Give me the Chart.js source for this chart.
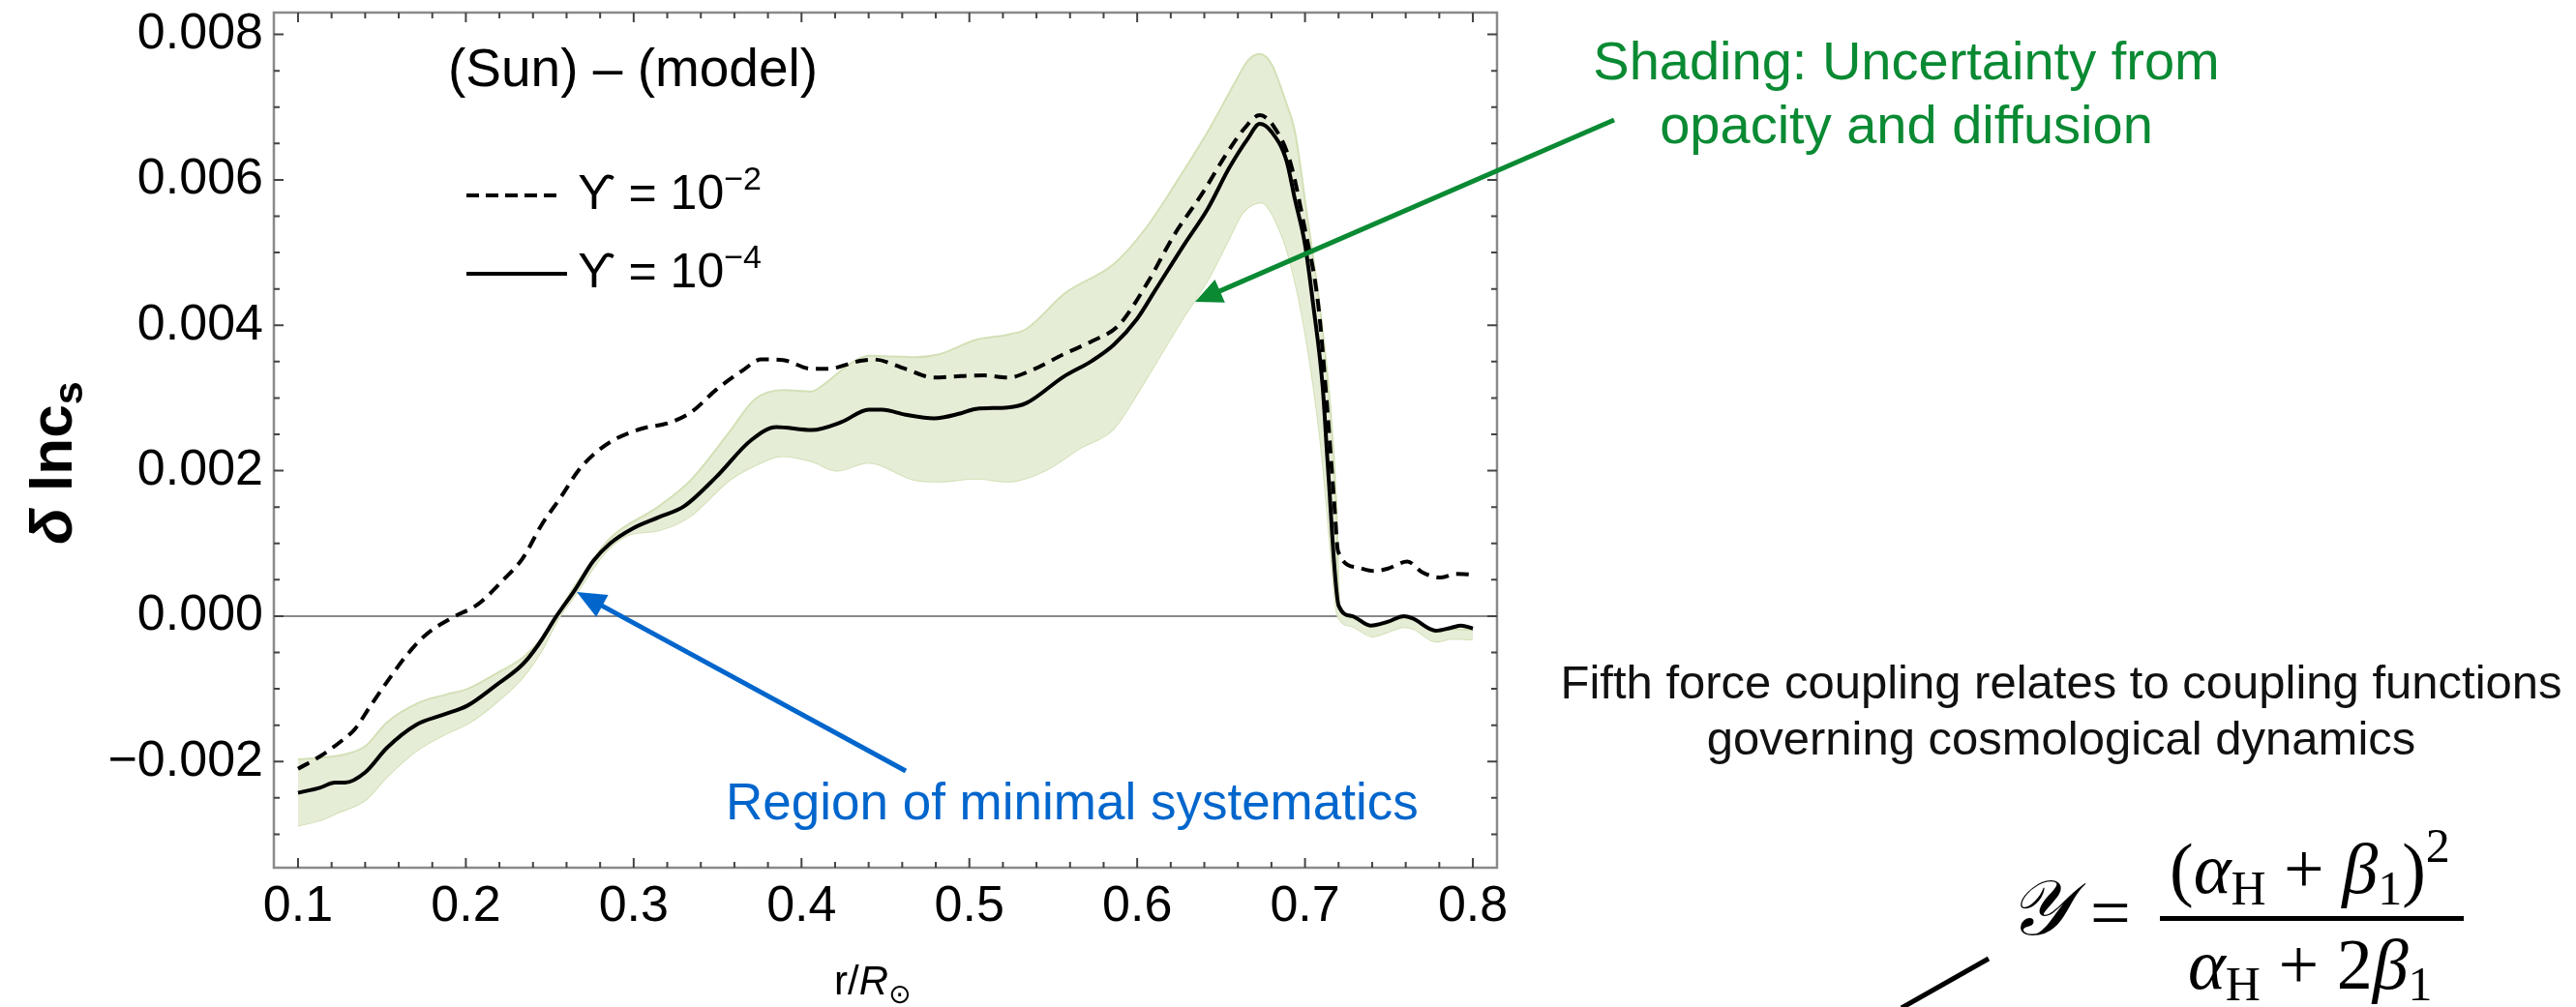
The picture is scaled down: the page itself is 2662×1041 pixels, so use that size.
<!DOCTYPE html>
<html>
<head>
<meta charset="utf-8">
<script src="https://cdn.jsdelivr.net/npm/chart.js@4.4.1/dist/chart.umd.min.js"></script>
<style>
  html, body { margin: 0; padding: 0; background: #fff; }
  #c { display: block; }
</style>
</head>
<body>
<canvas id="c" width="2662" height="1041"></canvas>
<script>
// ---- values (y in units of 1e-3) ----
const xTicks = [0.1, 0.2, 0.3, 0.4, 0.5, 0.6, 0.7, 0.8];
const yTicks = [-2, 0, 2, 4, 6, 8];

// Y = 10^-2 (dashed)
const dashX = [0.100,0.113,0.124,0.134,0.143,0.155,0.165,0.176,0.192,0.207,0.222,0.234,0.245,0.257,0.267,0.276,0.288,0.305,0.320,0.334,0.349,0.365,0.376,0.389,0.406,0.415,0.435,0.443,0.462,0.479,0.495,0.509,0.523,0.537,0.556,0.573,0.589,0.606,0.622,0.639,0.653,0.664,0.673,0.6815,0.691,0.6995,0.708,0.713,0.7174,0.7197,0.731,0.741,0.749,0.761,0.770,0.781,0.790,0.800];
const dashY = [-2.10,-1.93,-1.75,-1.55,-1.24,-0.84,-0.53,-0.26,-0.02,0.16,0.49,0.80,1.25,1.65,2.00,2.22,2.42,2.58,2.65,2.80,3.11,3.38,3.53,3.52,3.40,3.40,3.51,3.53,3.40,3.28,3.30,3.31,3.28,3.38,3.60,3.78,4.00,4.58,5.24,5.82,6.35,6.71,6.89,6.73,6.26,5.37,4.26,2.93,1.56,0.89,0.67,0.62,0.65,0.75,0.60,0.53,0.58,0.57];

// Y = 10^-4 (solid)
const solidX = [0.100,0.113,0.122,0.128,0.140,0.153,0.170,0.186,0.201,0.218,0.234,0.243,0.254,0.265,0.276,0.286,0.299,0.315,0.330,0.349,0.370,0.385,0.406,0.424,0.440,0.448,0.462,0.479,0.495,0.504,0.523,0.534,0.556,0.573,0.586,0.600,0.611,0.628,0.642,0.655,0.666,0.673,0.680,0.689,0.694,0.700,0.705,0.7105,0.7135,0.7201,0.728,0.739,0.749,0.759,0.764,0.778,0.787,0.793,0.800];
const solidY = [-2.43,-2.36,-2.29,-2.29,-2.15,-1.81,-1.50,-1.36,-1.23,-0.95,-0.66,-0.40,0.00,0.36,0.76,1.00,1.20,1.36,1.51,1.91,2.42,2.60,2.56,2.67,2.84,2.84,2.77,2.72,2.79,2.85,2.87,2.93,3.29,3.51,3.73,4.09,4.49,5.11,5.60,6.17,6.57,6.77,6.66,6.26,5.73,5.11,4.26,3.16,2.10,0.14,0.00,-0.13,-0.08,0.00,-0.03,-0.20,-0.16,-0.13,-0.17];

// shading: upper and lower edge
const upX = [0.100,0.113,0.128,0.140,0.153,0.172,0.188,0.201,0.218,0.234,0.245,0.255,0.266,0.286,0.315,0.334,0.357,0.372,0.389,0.406,0.413,0.429,0.440,0.468,0.482,0.504,0.523,0.534,0.557,0.586,0.605,0.624,0.643,0.659,0.666,0.673,0.680,0.688,0.694,0.701,0.709,0.715,0.7186,0.7205,0.728,0.740,0.749,0.759,0.765,0.778,0.788,0.800];
const upY = [-1.97,-1.95,-1.90,-1.79,-1.46,-1.19,-1.08,-1.00,-0.79,-0.57,-0.31,0.05,0.45,1.07,1.51,1.87,2.53,2.98,3.11,3.09,3.18,3.47,3.58,3.56,3.60,3.80,3.87,3.95,4.44,4.84,5.33,5.99,6.70,7.37,7.64,7.73,7.59,7.11,6.66,5.55,4.22,2.89,1.56,0.15,-0.02,-0.15,-0.10,-0.02,-0.05,-0.22,-0.18,-0.19];
const lowX = [0.100,0.113,0.124,0.140,0.153,0.170,0.188,0.201,0.218,0.234,0.245,0.255,0.266,0.282,0.296,0.315,0.334,0.357,0.374,0.388,0.406,0.421,0.440,0.468,0.482,0.504,0.523,0.545,0.566,0.586,0.605,0.626,0.643,0.653,0.663,0.674,0.682,0.691,0.701,0.709,0.7128,0.716,0.7195,0.728,0.740,0.749,0.759,0.765,0.778,0.788,0.800];
const lowY = [-2.88,-2.81,-2.70,-2.53,-2.21,-1.86,-1.62,-1.48,-1.19,-0.84,-0.48,-0.04,0.32,0.85,1.11,1.18,1.38,1.87,2.09,2.20,2.13,2.00,2.11,1.87,1.85,1.89,1.85,2.00,2.31,2.58,3.25,4.05,4.66,5.11,5.55,5.69,5.46,4.89,3.78,2.45,1.56,0.70,0.00,-0.14,-0.28,-0.22,-0.15,-0.18,-0.35,-0.31,-0.32];

const pts = (xs, ys) => xs.map((x, i) => ({ x: x, y: ys[i] }));

const SANS = 'Liberation Sans, Arial, DejaVu Sans, sans-serif';
const SERIF = 'Liberation Serif, Times New Roman, DejaVu Serif, serif';

// draws text pieces one after another, returns end x
function runs(ctx, parts, x, y) {
    for (const p of parts) {
        ctx.font = p.f;
        ctx.fillText(p.t, x, y + (p.dy || 0));
        x += ctx.measureText(p.t).width;
    }
    return x;
}

function arrow(ctx, x1, y1, x2, y2, color, w, hl, hw) {
    const a = Math.atan2(y2 - y1, x2 - x1);
    const bx = x2 - hl * Math.cos(a), by = y2 - hl * Math.sin(a);
    ctx.strokeStyle = color;
    ctx.fillStyle = color;
    ctx.lineWidth = w;
    ctx.beginPath();
    ctx.moveTo(x1, y1);
    ctx.lineTo(bx + 2 * Math.cos(a), by + 2 * Math.sin(a));
    ctx.stroke();
    ctx.beginPath();
    ctx.moveTo(x2, y2);
    ctx.lineTo(bx + hw / 2 * Math.sin(a), by - hw / 2 * Math.cos(a));
    ctx.lineTo(bx - hw / 2 * Math.sin(a), by + hw / 2 * Math.cos(a));
    ctx.closePath();
    ctx.fill();
}

const deco = {
    id: 'deco',
    beforeDatasetsDraw(chart) {
        const { ctx, chartArea: a, scales: { y } } = chart;
        const y0 = y.getPixelForValue(0);
        ctx.save();
        ctx.strokeStyle = '#8a8a8a';
        ctx.lineWidth = 2;
        ctx.beginPath();
        ctx.moveTo(a.left, y0);
        ctx.lineTo(a.right, y0);
        ctx.stroke();
        ctx.restore();
    },
    afterDraw(chart) {
        const { ctx, chartArea: a, scales: { x, y } } = chart;
        ctx.save();

        // frame
        ctx.strokeStyle = '#8a8a8a';
        ctx.lineWidth = 2.5;
        ctx.strokeRect(a.left, a.top, a.right - a.left, a.bottom - a.top);

        // inward ticks on all four sides
        ctx.strokeStyle = '#444';
        ctx.lineWidth = 2;
        ctx.beginPath();
        for (let i = 0; i <= 35; i++) {
            const px = x.getPixelForValue(0.1 + i * 0.02);
            const len = i % 5 === 0 ? 10 : 6;
            ctx.moveTo(px, a.bottom); ctx.lineTo(px, a.bottom - len);
            ctx.moveTo(px, a.top); ctx.lineTo(px, a.top + len);
        }
        for (let i = 0; i <= 22; i++) {
            const py = y.getPixelForValue(-3 + i * 0.5);
            const len = (i - 2) % 4 === 0 ? 10 : 6;
            ctx.moveTo(a.left, py); ctx.lineTo(a.left + len, py);
            ctx.moveTo(a.right, py); ctx.lineTo(a.right - len, py);
        }
        ctx.stroke();

        ctx.fillStyle = '#000';
        ctx.textBaseline = 'alphabetic';
        ctx.textAlign = 'left';

        // y axis title
        ctx.save();
        ctx.translate(74, 563);
        ctx.rotate(-Math.PI / 2);
        runs(ctx, [
            { t: 'δ', f: 'italic bold 62px ' + SANS },
            { t: ' lnc', f: 'bold 62px ' + SANS },
            { t: 's', f: 'bold 43px ' + SANS, dy: 11 }
        ], 0, 0);
        ctx.restore();

        // x axis title
        runs(ctx, [
            { t: 'r/', f: '42px ' + SANS },
            { t: 'R', f: 'italic 42px ' + SANS },
            { t: '⊙', f: '28px DejaVu Sans, ' + SANS, dy: 9 }
        ], 862, 1028);

        // inset title and legend
        ctx.font = '55px ' + SANS;
        ctx.fillText('(Sun) – (model)', 463, 89);

        ctx.strokeStyle = '#000';
        ctx.lineWidth = 4;
        ctx.setLineDash([13, 7]);
        ctx.beginPath(); ctx.moveTo(482, 202); ctx.lineTo(582, 202); ctx.stroke();
        ctx.setLineDash([]);
        ctx.beginPath(); ctx.moveTo(482, 283); ctx.lineTo(586, 283); ctx.stroke();
        runs(ctx, [
            { t: 'ϒ = 10', f: '50px ' + SANS },
            { t: '−2', f: '34px ' + SANS, dy: -20 }
        ], 597, 216);
        runs(ctx, [
            { t: 'ϒ = 10', f: '50px ' + SANS },
            { t: '−4', f: '34px ' + SANS, dy: -20 }
        ], 597, 297);

        // blue annotation
        arrow(ctx, 936, 797, 596, 612, '#0066cc', 5, 30, 26);
        ctx.fillStyle = '#0066cc';
        ctx.font = '53px ' + SANS;
        ctx.fillText('Region of minimal systematics', 750, 847);

        // green annotation
        arrow(ctx, 1668, 124, 1235, 312, '#0a8a33', 5, 28, 26);
        ctx.fillStyle = '#0a8a33';
        ctx.font = '56px ' + SANS;
        ctx.textAlign = 'center';
        ctx.fillText('Shading: Uncertainty from', 1970, 82);
        ctx.fillText('opacity and diffusion', 1970, 148);

        // right side text
        ctx.fillStyle = '#111';
        ctx.font = '49px ' + SANS;
        ctx.fillText('Fifth force coupling relates to coupling functions', 2130, 722);
        ctx.fillText('governing cosmological dynamics', 2130, 780);
        ctx.textAlign = 'left';

        // formula
        ctx.fillStyle = '#000';
        const M = '74px ' + SERIF, MI = 'italic 74px ' + SERIF, S = '50px ' + SERIF;
        runs(ctx, [{ t: '𝒴', f: 'italic 80px ' + SERIF }], 2075, 966);
        runs(ctx, [{ t: '=', f: M }], 2160, 968);
        runs(ctx, [
            { t: '(', f: M }, { t: 'α', f: MI }, { t: 'H', f: S, dy: 12 },
            { t: ' + ', f: M }, { t: 'β', f: MI }, { t: '1', f: S, dy: 12 },
            { t: ')', f: M }, { t: '2', f: S, dy: -32 }
        ], 2242, 923);
        ctx.fillRect(2232, 947, 314, 5);
        runs(ctx, [
            { t: 'α', f: MI }, { t: 'H', f: S, dy: 12 },
            { t: ' + ', f: M }, { t: '2', f: M }, { t: 'β', f: MI }, { t: '1', f: S, dy: 12 }
        ], 2261, 1022);

        ctx.strokeStyle = '#000';
        ctx.lineWidth = 5;
        ctx.beginPath(); ctx.moveTo(1965, 1042); ctx.lineTo(2055, 991); ctx.stroke();

        ctx.restore();
    }
};

new Chart(document.getElementById('c'), {
    type: 'line',
    data: {
        datasets: [
            {
                label: 'ϒ = 10^-4',
                data: pts(solidX, solidY),
                borderColor: '#000',
                borderWidth: 4,
                fill: false
            },
            {
                label: 'ϒ = 10^-2',
                data: pts(dashX, dashY),
                borderColor: '#000',
                borderWidth: 4,
                borderDash: [13, 8],
                fill: false
            },
            {
                label: 'upper',
                data: pts(upX, upY),
                borderColor: '#d3e0b6',
                borderWidth: 2,
                backgroundColor: '#e6edd7',
                fill: '+1'
            },
            {
                label: 'lower',
                data: pts(lowX, lowY),
                borderColor: '#d3e0b6',
                borderWidth: 2,
                fill: false
            }
        ]
    },
    options: {
        responsive: false,
        animation: false,
        devicePixelRatio: 1,
        elements: { point: { radius: 0 }, line: { cubicInterpolationMode: 'monotone' } },
        layout: { autoPadding: false, padding: { left: 0, top: 13, right: 1115, bottom: 0 } },
        plugins: { legend: { display: false }, tooltip: { enabled: false } },
        scales: {
            x: {
                type: 'linear',
                min: 0.0856,
                max: 0.8144,
                grid: { display: false, drawTicks: false },
                border: { display: false },
                afterBuildTicks: s => { s.ticks = xTicks.map(v => ({ value: v })); },
                afterFit: s => {
                    s.height = 144;
                    s.paddingLeft = 0;
                    s.paddingRight = 0;
                },
                ticks: {
                    autoSkip: false,
                    maxRotation: 0,
                    padding: 17,
                    color: '#000',
                    font: { family: SANS, size: 52, lineHeight: 0.9 },
                    callback: v => v.toFixed(1)
                }
            },
            y: {
                type: 'linear',
                min: -3.46,
                max: 8.3,
                grid: { display: false, drawTicks: false },
                border: { display: false },
                afterBuildTicks: s => { s.ticks = yTicks.map(v => ({ value: v })); },
                afterFit: s => {
                    s.width = 283;
                    s.paddingTop = 0;
                    s.paddingBottom = 0;
                },
                ticks: {
                    autoSkip: false,
                    padding: 11,
                    color: '#000',
                    font: { family: SANS, size: 52 },
                    callback: v => (v < 0 ? '−' : '') + Math.abs(v / 1000).toFixed(3)
                }
            }
        }
    },
    plugins: [deco]
});
</script>
</body>
</html>
